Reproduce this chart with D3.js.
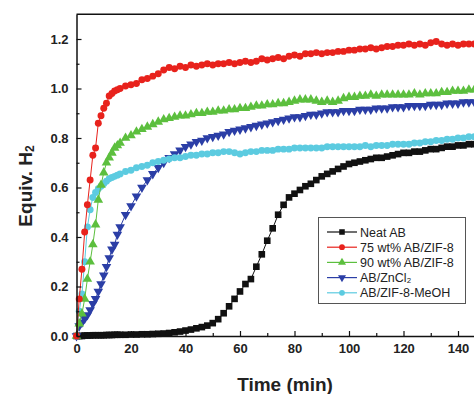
<!DOCTYPE html>
<html><head><meta charset="utf-8">
<script src="https://cdn.jsdelivr.net/npm/d3@7"></script>
<style>
html,body{margin:0;padding:0;background:#fff;}
svg{display:block;}
text{font-family:"Liberation Sans",Arial,sans-serif;}
</style></head>
<body>
<svg id="chart" width="474" height="394"></svg>
<script>
const times = [0,1,2,3,4,5,6,7,8,9,10,11,12,13,14,15,16,
 18,20,22,24,26,28,30,32,34,36,38,40,42,44,46,48,50,52,54,56,58,60,62,64,66,68,70,72,74,76,78,80,
 82,84,86,88,90,92,94,96,98,100,102,104,106,108,110,112,114,116,118,120,122,124,126,128,130,132,134,136,138,140,142,144,146];

const neatAB = [0,0,0,0.002,0.002,0.002,0.003,0.003,0.003,0.003,0.003,0.004,0.004,0.004,0.005,0.005,0.005,
 0.005,0.006,0.006,0.007,0.007,0.008,0.009,0.01,0.012,0.015,0.018,0.022,0.026,0.031,0.036,0.042,0.052,0.068,0.092,0.12,0.15,0.18,0.21,0.23,0.28,0.33,0.385,0.435,0.49,0.53,0.56,0.575,
 0.59,0.605,0.615,0.63,0.645,0.655,0.665,0.675,0.685,0.695,0.70,0.705,0.71,0.715,0.72,0.72,0.725,0.73,0.735,0.74,0.74,0.745,0.745,0.75,0.755,0.755,0.76,0.765,0.765,0.77,0.77,0.775,0.775];

const zif75 = [0,0.15,0.27,0.42,0.53,0.63,0.73,0.76,0.86,0.89,0.92,0.94,0.97,0.98,0.99,0.995,1.0,
 1.01,1.015,1.02,1.035,1.04,1.05,1.06,1.075,1.085,1.08,1.09,1.085,1.095,1.09,1.095,1.10,1.095,1.10,1.10,1.105,1.10,1.105,1.11,1.105,1.11,1.12,1.115,1.12,1.125,1.12,1.13,1.135,
 1.13,1.14,1.14,1.145,1.14,1.145,1.145,1.15,1.15,1.155,1.155,1.16,1.16,1.165,1.16,1.165,1.17,1.17,1.175,1.175,1.18,1.175,1.18,1.175,1.185,1.19,1.18,1.175,1.18,1.175,1.18,1.18,1.18];

const zif90 = [0,0.05,0.09,0.15,0.23,0.30,0.37,0.45,0.55,0.61,0.66,0.70,0.72,0.74,0.76,0.77,0.78,
 0.80,0.81,0.825,0.835,0.845,0.855,0.865,0.875,0.88,0.885,0.89,0.89,0.895,0.90,0.90,0.905,0.905,0.91,0.91,0.915,0.915,0.92,0.92,0.925,0.93,0.93,0.935,0.935,0.94,0.94,0.945,0.95,
 0.955,0.955,0.955,0.95,0.945,0.95,0.945,0.95,0.96,0.965,0.965,0.97,0.97,0.975,0.97,0.975,0.975,0.975,0.975,0.975,0.975,0.98,0.975,0.98,0.98,0.98,0.985,0.985,0.99,0.99,0.99,0.995,0.995];

const znCl2 = [0,0.04,0.055,0.07,0.085,0.105,0.13,0.15,0.18,0.21,0.245,0.28,0.315,0.35,0.37,0.41,0.44,
 0.49,0.525,0.565,0.60,0.63,0.655,0.68,0.70,0.72,0.735,0.75,0.765,0.775,0.785,0.79,0.80,0.805,0.81,0.815,0.825,0.83,0.835,0.84,0.845,0.85,0.855,0.86,0.865,0.87,0.875,0.88,0.885,
 0.885,0.89,0.895,0.895,0.90,0.905,0.905,0.905,0.91,0.91,0.91,0.915,0.915,0.915,0.92,0.92,0.92,0.925,0.925,0.925,0.93,0.93,0.93,0.93,0.935,0.935,0.935,0.94,0.94,0.94,0.945,0.945,0.945];

const meoh = [0,0.10,0.17,0.30,0.44,0.51,0.56,0.58,0.595,0.605,0.615,0.625,0.635,0.64,0.645,0.65,0.655,
 0.665,0.67,0.68,0.685,0.69,0.70,0.705,0.71,0.715,0.72,0.72,0.725,0.73,0.73,0.735,0.735,0.74,0.74,0.745,0.745,0.74,0.735,0.74,0.745,0.745,0.75,0.75,0.75,0.755,0.755,0.755,0.76,
 0.76,0.76,0.76,0.76,0.76,0.765,0.765,0.765,0.765,0.765,0.765,0.765,0.77,0.765,0.77,0.77,0.77,0.775,0.775,0.775,0.775,0.78,0.78,0.785,0.785,0.79,0.79,0.795,0.795,0.80,0.80,0.805,0.805];

const seriesNames = ["Neat AB","75 wt% AB/ZIF-8","90 wt% AB/ZIF-8","AB/ZnCl\u2082","AB/ZIF-8-MeOH"];
const seriesColors = ["#111111","#e8221c","#5cbf3e","#2b3ea6","#5ccbe0"];
const xTicks = [0,20,40,60,80,100,120,140];
const yTicks = [0.0,0.2,0.4,0.6,0.8,1.0,1.2];

const svg = d3.select("#chart");
const x = d3.scaleLinear().domain([0,150]).range([76.5, 485.25]);
const y = d3.scaleLinear().domain([0,1.3]).range([336, 14.25]);

const seriesValues = [neatAB, zif75, zif90, znCl2, meoh];
const symbols = [
  {type:d3.symbolSquare, size:44, rot:0},
  {type:d3.symbolCircle, size:38, rot:0},
  {type:d3.symbolTriangle, size:40, rot:0},
  {type:d3.symbolTriangle, size:40, rot:180},
  {type:d3.symbolCircle, size:38, rot:0}
];

// frame
svg.append("line").attr("x1",x(0)).attr("x2",474).attr("y1",y(1.3)).attr("y2",y(1.3))
  .attr("stroke","#111").attr("stroke-width",1.5);

const order = [0,3,4,2,1];
order.forEach(i=>{
  const vals = seriesValues[i];
  const pts = times.map((t,k)=>[t, vals[k]]);
  const g = svg.append("g");
  g.append("path").datum(pts)
    .attr("fill","none").attr("stroke",seriesColors[i]).attr("stroke-width",1)
    .attr("d", d3.line().x(d=>x(d[0])).y(d=>y(d[1])));
  const sym = d3.symbol().type(symbols[i].type).size(symbols[i].size);
  g.selectAll("path.m").data(pts).join("path").attr("class","m")
    .attr("d", sym)
    .attr("transform", d=>`translate(${x(d[0])},${y(d[1])}) rotate(${symbols[i].rot})`)
    .attr("fill", seriesColors[i]);
});

// axes
const axisStyle = g=>{
  g.select(".domain").attr("stroke","#111").attr("stroke-width",1.5);
  g.selectAll(".tick line").attr("stroke","#111").attr("stroke-width",1.2);
  g.selectAll(".tick text").attr("font-size",13).attr("font-weight","bold").attr("fill","#222")
    .attr("font-family","'Liberation Sans',Arial,sans-serif");
};
svg.append("g").attr("transform",`translate(0,${y(0)})`)
  .call(d3.axisBottom(x).tickValues(xTicks).tickSize(-5).tickPadding(8).tickSizeOuter(0).tickFormat(d3.format("d")))
  .call(axisStyle);
svg.append("g").attr("transform",`translate(0,${y(0)})`)
  .call(d3.axisBottom(x).tickValues([10,30,50,70,90,110,130]).tickSize(-3).tickSizeOuter(0).tickFormat(""))
  .call(axisStyle).select(".domain").remove();
svg.append("g").attr("transform",`translate(${x(0)},0)`)
  .call(d3.axisLeft(y).tickValues(yTicks).tickSize(-5).tickPadding(8).tickSizeOuter(0).tickFormat(d3.format(".1f")))
  .call(axisStyle);
svg.append("g").attr("transform",`translate(${x(0)},0)`)
  .call(d3.axisLeft(y).tickValues([0.1,0.3,0.5,0.7,0.9,1.1]).tickSize(-3).tickSizeOuter(0).tickFormat(""))
  .call(axisStyle).select(".domain").remove();

// axis titles
svg.append("text").attr("transform","translate(32,186) rotate(-90)")
  .attr("text-anchor","middle").attr("font-size",19).attr("font-weight","bold").attr("fill","#222")
  .html('Equiv. H<tspan font-size="12" dy="2">2</tspan>');
svg.append("text").attr("x",285).attr("y",391)
  .attr("text-anchor","middle").attr("font-size",19).attr("font-weight","bold").attr("fill","#222")
  .text("Time (min)");

// legend
const lg = svg.append("g");
lg.append("rect").attr("x",318.5).attr("y",217.5).attr("width",147).attr("height",86)
  .attr("fill","#fff").attr("stroke","#555").attr("stroke-width",1);
seriesNames.forEach((name,i)=>{
  const yy = 232 + i*15.2;
  lg.append("line").attr("x1",327).attr("x2",357).attr("y1",yy).attr("y2",yy)
    .attr("stroke",seriesColors[i]).attr("stroke-width",1.2);
  lg.append("path").attr("d", d3.symbol().type(symbols[i].type).size(symbols[i].size*0.7)())
    .attr("transform",`translate(342,${yy}) rotate(${symbols[i].rot})`).attr("fill",seriesColors[i]);
  lg.append("text").attr("x",360).attr("y",yy+4.5).attr("font-size",12.5).attr("fill","#222")
    .text(name);
});
</script>
</body></html>
